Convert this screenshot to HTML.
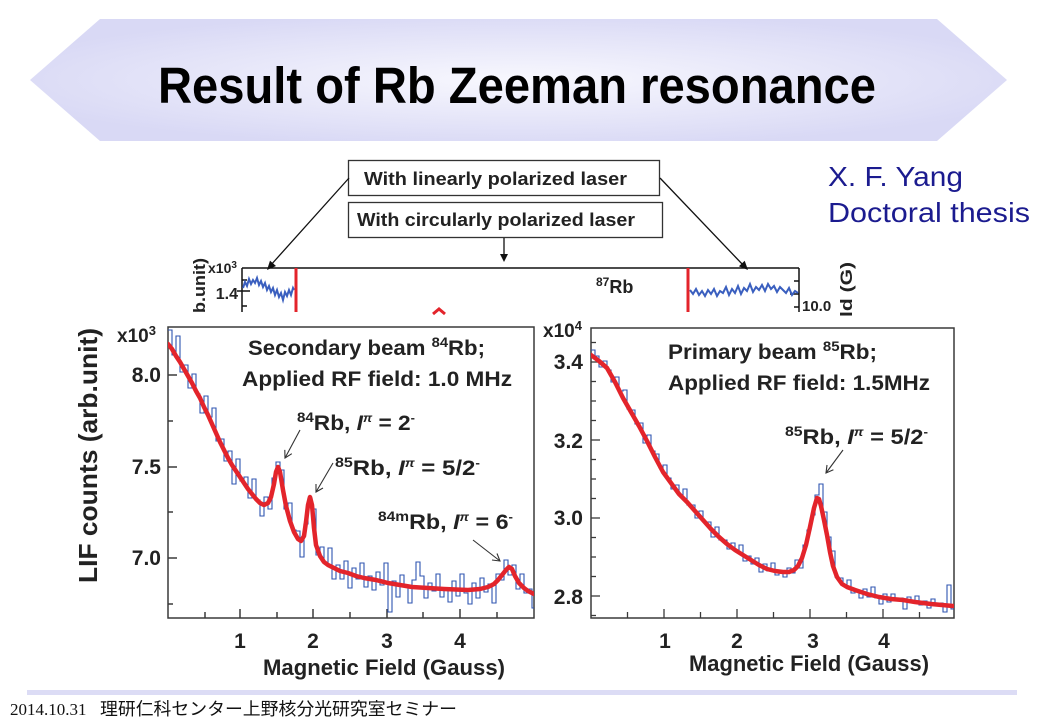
<!DOCTYPE html>
<html><head><meta charset="utf-8"><style>
html,body{margin:0;padding:0;background:#fff;}
svg{display:block;}
text{font-family:"Liberation Sans","Noto Sans CJK JP",sans-serif;}
</style></head><body>
<svg width="1040" height="720" viewBox="0 0 1040 720" xmlns="http://www.w3.org/2000/svg">
<defs>
<radialGradient id="bg" cx="50%" cy="50%" r="55%">
<stop offset="0%" stop-color="#f8f8fe"/>
<stop offset="100%" stop-color="#d9d9f5"/>
</radialGradient>
<clipPath id="cl"><rect x="168" y="327" width="366" height="291"/></clipPath>
<clipPath id="cr"><rect x="591" y="328" width="363" height="290"/></clipPath>
</defs>
<rect width="1040" height="720" fill="#fff"/>
<!-- banner -->
<polygon points="30,80 100,19 937,19 1007,80 937,141 100,141" fill="url(#bg)"/>
<text x="158" y="103" font-size="51" font-weight="bold" fill="#000" textLength="718" lengthAdjust="spacingAndGlyphs">Result of Rb Zeeman resonance</text>

<!-- author -->
<text x="828" y="186" font-size="28" fill="#1b1b8f" textLength="135" lengthAdjust="spacingAndGlyphs">X. F. Yang</text>
<text x="828" y="222" font-size="28" fill="#1b1b8f" textLength="202" lengthAdjust="spacingAndGlyphs">Doctoral thesis</text>

<!-- boxes -->
<rect x="348.5" y="160.5" width="311" height="35" fill="#fff" stroke="#333" stroke-width="1.3"/>
<text x="364" y="185" font-size="18" font-weight="bold" fill="#222" textLength="263" lengthAdjust="spacingAndGlyphs">With linearly polarized laser</text>
<rect x="348.5" y="202.5" width="314" height="35" fill="#fff" stroke="#333" stroke-width="1.3"/>
<text x="357" y="226" font-size="18" font-weight="bold" fill="#222" textLength="278" lengthAdjust="spacingAndGlyphs">With circularly polarized laser</text>
<g stroke="#111" stroke-width="1.3" fill="none">
<line x1="349" y1="178" x2="270" y2="266"/>
<line x1="660" y1="178" x2="744" y2="266"/>
<line x1="504" y1="238" x2="504" y2="258"/>
</g>
<g fill="#111">
<polygon points="267,270 276,266 270,260.6"/>
<polygon points="748,270 738.9,266.3 744.7,260.7"/>
<polygon points="500,254 504,262 508,254"/>
</g>

<!-- inset strip -->
<g stroke="#111" stroke-width="1.5" fill="none">
<line x1="242" y1="268" x2="799" y2="268"/>
<line x1="242" y1="268" x2="242" y2="312"/>
<line x1="799" y1="268" x2="799" y2="312"/>
<line x1="242" y1="280" x2="247" y2="280"/>
<line x1="237" y1="291" x2="250" y2="291"/>
<line x1="242" y1="306" x2="247" y2="306"/>
<line x1="799" y1="281" x2="794" y2="281"/>
<line x1="799" y1="294" x2="790" y2="294"/>
<line x1="799" y1="307" x2="794" y2="307"/>
</g>
<polyline fill="none" stroke="#3a5fbf" stroke-width="2" points="243,288 245,282 247,286 249,279 251,284 253,280 255,283 257,278 259,285 261,281 263,287 265,283 267,290 269,286 271,292 273,288 275,295 277,290 279,297 281,293 283,300 285,292 287,296 289,290 291,295 293,288 294,290"/>
<polyline fill="none" stroke="#3a5fbf" stroke-width="2" points="690,290 693,294 696,289 699,295 702,291 705,296 708,290 711,294 714,289 717,296 720,291 723,293 726,287 729,295 732,289 735,293 738,286 741,294 744,288 747,291 750,284 753,292 756,287 759,290 762,285 765,291 768,284 771,289 774,286 777,292 780,287 783,290 786,293 789,288 792,295 795,291 798,293"/>
<line x1="296" y1="268" x2="296" y2="312" stroke="#e3242b" stroke-width="3"/>
<line x1="688" y1="268" x2="688" y2="312" stroke="#e3242b" stroke-width="3"/>
<path d="M433,314 L439,309 L445,314" fill="none" stroke="#e3242b" stroke-width="3"/>
<text x="208" y="273" font-size="14" font-weight="bold" fill="#222">x10<tspan dy="-5" font-size="10">3</tspan></text>
<text x="238" y="299" font-size="16" font-weight="bold" fill="#222" text-anchor="end">1.4</text>
<text transform="translate(205,313) rotate(-90)" font-size="17" font-weight="bold" fill="#222" textLength="55" lengthAdjust="spacingAndGlyphs">b.unit)</text>
<text x="596" y="293" font-size="18" font-weight="bold" fill="#222"><tspan dy="-7" font-size="12">87</tspan><tspan dy="7">Rb</tspan></text>
<text x="802" y="311" font-size="15" font-weight="bold" fill="#222">10.0</text>
<text transform="translate(852,317) rotate(-90)" font-size="17" font-weight="bold" fill="#222" textLength="55" lengthAdjust="spacingAndGlyphs">ld (G)</text>

<!-- LEFT CHART -->
<rect x="114" y="318" width="424" height="12" fill="#fff"/>
<rect x="168" y="327" width="366" height="291" fill="#fff" stroke="#3a3a3a" stroke-width="1.5"/>
<g stroke="#3a3a3a" stroke-width="1.5">
<line x1="168" y1="375" x2="177" y2="375"/>
<line x1="168" y1="467" x2="177" y2="467"/>
<line x1="168" y1="558" x2="177" y2="558"/>
<line x1="168" y1="421" x2="173" y2="421"/>
<line x1="168" y1="512" x2="173" y2="512"/>
<line x1="168" y1="604" x2="173" y2="604"/>
<line x1="205" y1="618" x2="205" y2="612"/>
<line x1="240" y1="618" x2="240" y2="609"/>
<line x1="277" y1="618" x2="277" y2="612"/>
<line x1="313" y1="618" x2="313" y2="609"/>
<line x1="350" y1="618" x2="350" y2="612"/>
<line x1="387" y1="618" x2="387" y2="609"/>
<line x1="423" y1="618" x2="423" y2="612"/>
<line x1="460" y1="618" x2="460" y2="609"/>
<line x1="497" y1="618" x2="497" y2="612"/>
</g>
<g clip-path="url(#cl)">
<path fill="none" stroke="#2f55b0" stroke-width="1.1" d="M168,330 H172 V355 H176 V336 H180 V372 H184 V365 H188 V388 H192 V374 H196 V394 H200 V413 H204 V396 H208 V417 H212 V408 H216 V441 H220 V439 H224 V461 H228 V451 H232 V484 H236 V459 H240 V481 H244 V477 H248 V498 H252 V479 H256 V500 H260 V516 H264 V497 H268 V509 H272 V478 H276 V462 H280 V470 H284 V509 H288 V503 H292 V530 H296 V531 H300 V557 H304 V524 H308 V498 H312 V509 H316 V555 H320 V547 H324 V564 H328 V548 H332 V579 H336 V565 H340 V579 H344 V561 H348 V588 H352 V568 H356 V579 H360 V563 H364 V587 H368 V576 H372 V590 H376 V572 H380 V585 H384 V563 H388 V612 H392 V581 H396 V597 H400 V575 H404 V587 H408 V603 H412 V580 H416 V562 H420 V576 H424 V598 H428 V583 H432 V591 H436 V574 H440 V597 H444 V588 H448 V602 H452 V581 H456 V596 H460 V574 H464 V593 H468 V604 H472 V583 H476 V598 H480 V578 H484 V592 H488 V584 H492 V603 H496 V574 H500 V580 H504 V560 H508 V575 H512 V565 H516 V589 H520 V574 H524 V593 H528 V589 H532 V608 H534"/>
<polyline fill="none" stroke="#e3242b" stroke-width="4.5" stroke-linejoin="round" stroke-linecap="round" points="168,344 172,349 176,356 180,362 184,369 188,376 192,383 196,391 200,398 204,407 208,415 212,424 216,433 220,442 224,450 228,458 232,465 236,471 240,477 244,483 248,489 252,494 256,499 260,503 264,505 268,503 271,497 274,484 276,472 278,467 280,472 283,490 286,506 290,521 294,532 298,539 301,541 304,536 306,522 308,505 310,497 312,505 314,528 316,545 320,556 324,562 328,565 332,567 336,569 340,571 348,573 356,576 364,578 376,580 388,583 400,585 412,587 428,588 444,589 468,590 480,589 488,587 494,584 498,580 502,575 506,570 509,567 512,569 515,576 519,583 524,588 528,591 534,594"/>
</g>
<g font-weight="bold" fill="#222">
<text x="117" y="342" font-size="19">x10<tspan dy="-7" font-size="13">3</tspan></text>
<text x="161" y="382" font-size="21" text-anchor="end">8.0</text>
<text x="161" y="474" font-size="21" text-anchor="end">7.5</text>
<text x="161" y="565" font-size="21" text-anchor="end">7.0</text>
<text x="240" y="648" font-size="21" text-anchor="middle">1</text>
<text x="313" y="648" font-size="21" text-anchor="middle">2</text>
<text x="387" y="648" font-size="21" text-anchor="middle">3</text>
<text x="460" y="648" font-size="21" text-anchor="middle">4</text>
<text x="263" y="675" font-size="22" textLength="242" lengthAdjust="spacingAndGlyphs">Magnetic Field (Gauss)</text>
<text transform="translate(97,583) rotate(-90)" font-size="26" textLength="255" lengthAdjust="spacingAndGlyphs">LIF counts (arb.unit)</text>
<text x="248" y="355" font-size="21" textLength="237" lengthAdjust="spacingAndGlyphs">Secondary beam <tspan dy="-8" font-size="14">84</tspan><tspan dy="8">Rb;</tspan></text>
<text x="242" y="386" font-size="21" textLength="270" lengthAdjust="spacingAndGlyphs">Applied RF field: 1.0 MHz</text>
<text x="297" y="430" font-size="21" textLength="118" lengthAdjust="spacingAndGlyphs"><tspan dy="-8" font-size="14">84</tspan><tspan dy="8">Rb,  </tspan><tspan font-style="italic">I</tspan><tspan dy="-8" font-size="12" font-style="italic">π</tspan><tspan dy="8"> = 2</tspan><tspan dy="-8" font-size="12">-</tspan></text>
<text x="335" y="475" font-size="21" textLength="145" lengthAdjust="spacingAndGlyphs"><tspan dy="-8" font-size="14">85</tspan><tspan dy="8">Rb,  </tspan><tspan font-style="italic">I</tspan><tspan dy="-8" font-size="12" font-style="italic">π</tspan><tspan dy="8"> = 5/2</tspan><tspan dy="-8" font-size="12">-</tspan></text>
<text x="378" y="529" font-size="21" textLength="135" lengthAdjust="spacingAndGlyphs"><tspan dy="-8" font-size="14">84m</tspan><tspan dy="8">Rb,  </tspan><tspan font-style="italic">I</tspan><tspan dy="-8" font-size="12" font-style="italic">π</tspan><tspan dy="8"> = 6</tspan><tspan dy="-8" font-size="12">-</tspan></text>
</g>
<g stroke="#333" stroke-width="1.1" fill="none">
<line x1="300" y1="430" x2="285" y2="458"/>
<polyline points="291.8,453.7 285,458 284.8,449.9"/>
<line x1="333" y1="463" x2="316" y2="492"/>
<polyline points="323,488 316,492 316,484"/>
<line x1="473" y1="540" x2="500" y2="561"/>
<polyline points="492,560 500,561 497,553.5"/>
</g>

<!-- RIGHT CHART -->
<rect x="591" y="328" width="363" height="290" fill="#fff" stroke="#3a3a3a" stroke-width="1.5"/>
<g stroke="#3a3a3a" stroke-width="1.3">
<line x1="591" y1="342.5" x2="596" y2="342.5"/>
<line x1="591" y1="362" x2="600" y2="362"/>
<line x1="591" y1="381.5" x2="596" y2="381.5"/>
<line x1="591" y1="401" x2="596" y2="401"/>
<line x1="591" y1="420.5" x2="596" y2="420.5"/>
<line x1="591" y1="440" x2="600" y2="440"/>
<line x1="591" y1="459.5" x2="596" y2="459.5"/>
<line x1="591" y1="479" x2="596" y2="479"/>
<line x1="591" y1="498.5" x2="596" y2="498.5"/>
<line x1="591" y1="518" x2="600" y2="518"/>
<line x1="591" y1="537.5" x2="596" y2="537.5"/>
<line x1="591" y1="557" x2="596" y2="557"/>
<line x1="591" y1="576.5" x2="596" y2="576.5"/>
<line x1="591" y1="596" x2="600" y2="596"/>
<line x1="591" y1="615.5" x2="596" y2="615.5"/>
<line x1="627.5" y1="618" x2="627.5" y2="612"/>
<line x1="664" y1="618" x2="664" y2="609"/>
<line x1="700.5" y1="618" x2="700.5" y2="612"/>
<line x1="737" y1="618" x2="737" y2="609"/>
<line x1="773.5" y1="618" x2="773.5" y2="612"/>
<line x1="810" y1="618" x2="810" y2="609"/>
<line x1="846.5" y1="618" x2="846.5" y2="612"/>
<line x1="883" y1="618" x2="883" y2="609"/>
<line x1="919.5" y1="618" x2="919.5" y2="612"/>
</g>
<g clip-path="url(#cr)">
<path fill="none" stroke="#2f55b0" stroke-width="1.1" d="M591,350 H595 V356 H599 V367 H603 V361 H607 V370 H611 V382 H615 V377 H619 V391 H623 V390 H627 V409 H631 V410 H635 V424 H639 V423 H643 V443 H647 V435 H651 V451 H655 V454 H659 V468 H663 V465 H667 V478 H671 V489 H675 V485 H679 V496 H683 V489 H687 V505 H691 V505 H695 V518 H699 V511 H703 V522 H707 V522 H711 V537 H715 V527 H719 V540 H723 V540 H727 V549 H731 V543 H735 V551 H739 V545 H743 V561 H747 V556 H751 V564 H755 V558 H759 V572 H763 V564 H767 V571 H771 V563 H775 V575 H779 V571 H783 V577 H787 V568 H791 V573 H795 V560 H799 V568 H803 V545 H807 V530 H811 V515 H815 V495 H819 V484 H823 V512 H827 V537 H831 V551 H835 V577 H839 V578 H843 V586 H847 V580 H851 V593 H855 V590 H859 V598 H863 V589 H867 V597 H871 V587 H875 V598 H879 V604 H883 V594 H887 V602 H891 V594 H895 V601 H899 V598 H903 V609 H907 V597 H911 V602 H915 V596 H919 V605 H923 V601 H927 V608 H931 V599 H935 V606 H939 V603 H943 V612 H947 V585 H951 V609 H954"/>
<polyline fill="none" stroke="#e3242b" stroke-width="4.5" stroke-linejoin="round" stroke-linecap="round" points="591,355 599,361 607,368 615,382 623,398 631,412 639,426 647,441 655,457 663,472 671,483 679,494 687,502 695,511 703,520 711,529 719,537 727,544 735,550 743,555 751,560 759,565 767,569 775,571 783,572 789,572 794,570 798,566 802,558 806,545 810,527 814,508 817,498 819,499 821,506 824,520 827,535 830,552 833,566 837,577 842,584 847,587 855,590 867,594 879,597 891,599 903,600 915,602 931,604 953,606"/>
</g>
<g font-weight="bold" fill="#222">
<text x="543" y="337" font-size="19">x10<tspan dy="-7" font-size="13">4</tspan></text>
<text x="583" y="369" font-size="21" text-anchor="end">3.4</text>
<text x="583" y="448" font-size="21" text-anchor="end">3.2</text>
<text x="583" y="525" font-size="21" text-anchor="end">3.0</text>
<text x="583" y="604" font-size="21" text-anchor="end">2.8</text>
<text x="665" y="648" font-size="21" text-anchor="middle">1</text>
<text x="737" y="648" font-size="21" text-anchor="middle">2</text>
<text x="813" y="648" font-size="21" text-anchor="middle">3</text>
<text x="884" y="648" font-size="21" text-anchor="middle">4</text>
<text x="689" y="671" font-size="22" textLength="240" lengthAdjust="spacingAndGlyphs">Magnetic Field (Gauss)</text>
<text x="668" y="359" font-size="21" textLength="209" lengthAdjust="spacingAndGlyphs">Primary beam <tspan dy="-8" font-size="14">85</tspan><tspan dy="8">Rb;</tspan></text>
<text x="668" y="390" font-size="21" textLength="262" lengthAdjust="spacingAndGlyphs">Applied RF field: 1.5MHz</text>
<text x="785" y="444" font-size="21" textLength="143" lengthAdjust="spacingAndGlyphs"><tspan dy="-8" font-size="14">85</tspan><tspan dy="8">Rb,  </tspan><tspan font-style="italic">I</tspan><tspan dy="-8" font-size="12" font-style="italic">π</tspan><tspan dy="8"> = 5/2</tspan><tspan dy="-8" font-size="12">-</tspan></text>
</g>
<g stroke="#333" stroke-width="1.1" fill="none">
<line x1="843" y1="450" x2="826" y2="473"/>
<polyline points="833.4,469.8 826,473 827,465"/>
</g>

<!-- footer -->
<rect x="27" y="690" width="990" height="5" fill="#dcdcf5"/>
<text x="10" y="715" font-size="17" fill="#111" style="font-family:'Liberation Serif',serif">2014.10.31</text>
<text x="100" y="715" font-size="17.5" fill="#111" textLength="357" lengthAdjust="spacingAndGlyphs" style="font-family:'Liberation Sans','Noto Sans CJK JP',sans-serif">理研仁科センター上野核分光研究室セミナー</text>
</svg>
</body></html>
